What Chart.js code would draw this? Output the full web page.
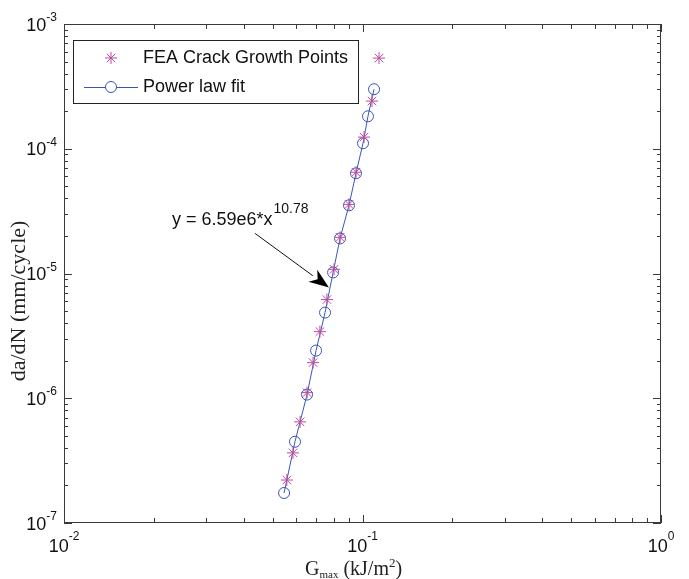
<!DOCTYPE html>
<html>
<head>
<meta charset="utf-8">
<script src="https://cdn.jsdelivr.net/npm/chart.js@4/dist/chart.umd.min.js"></script>
<style>
body{margin:0;background:#fff}
#wrap{width:689px;height:579px;position:relative}
</style>
</head>
<body>
<div id="wrap"><canvas id="growthChart"></canvas></div>
<script>
// FEA crack growth points
const feaG=[0.0558,0.0585,0.0618,0.0652,0.0683,0.0720,0.0760,0.0803,0.0841,0.0901,0.0951,0.1012,0.1076,0.1136]
const feaRate=[2.21e-7,3.65e-7,6.47e-7,1.11e-6,1.93e-6,3.42e-6,6.18e-6,1.08e-5,1.95e-5,3.58e-5,6.48e-5,1.24e-4,2.41e-4,5.33e-4]

// power law fit points
const fitG=[0.0546,0.0594,0.0652,0.0699,0.0749,0.0797,0.0841,0.0901,0.0951,0.1004,0.1043,0.1093]
const fitRate=[1.74e-7,4.48e-7,1.07e-6,2.41e-6,4.86e-6,1.02e-5,1.91e-5,3.52e-5,6.36e-5,1.107e-4,1.82e-4,3.0e-4]

const xDecades=[-2,-1,0]
const yDecades=[-7,-6,-5,-4,-3]
const seriesNames=["FEA Crack Growth Points","Power law fit"]
const fitText="y = 6.59e6*x"
const fitExp="10.78"
// annotation anchors in data units
const noteAt={x:0.0230,y:2.43e-5}
const arrowFrom={x:0.0436,y:2.10e-5}
const arrowTo={x:0.0772,y:7.72e-6}

const STAR="#bc4aa0"
const BLUE="#3a55b8"
const AXIS="#3a3a3a"
const SANS="'Liberation Sans', Arial, sans-serif"
const SERIF="'Liberation Serif', 'Times New Roman', serif"

function toPts(xs,ys){
return xs.map((v,i)=>({x:v,y:ys[i]}))
}

function drawPow(ctx,x,yBase,exp,align,baseSize,expSize,raise){
ctx.font=baseSize+"px "+SANS
let wb=ctx.measureText("10").width
ctx.font=expSize+"px "+SANS
let we=ctx.measureText(exp).width
let start=align==="center"?x-(wb+we)/2:x-(wb+we)
ctx.textAlign="left"
ctx.textBaseline="alphabetic"
ctx.font=baseSize+"px "+SANS
ctx.fillText("10",start,yBase)
ctx.font=expSize+"px "+SANS
ctx.fillText(exp,start+wb,yBase-raise)
}

const framePlugin={
id:"frame",
afterDraw(chart){
const ctx=chart.ctx
const a=chart.chartArea
const xs=chart.scales.x
const ys=chart.scales.y
ctx.save()

// frame
ctx.strokeStyle=AXIS
ctx.lineWidth=1
ctx.strokeRect(a.left+0.5,a.top+0.5,a.right-a.left-1,a.bottom-a.top-1)

// ticks, inward on all sides
ctx.beginPath()
xDecades.forEach(d=>{
for(let m=1;m<10;m++){
let v=m*Math.pow(10,d)
if(v>1.0001)break
let px=Math.round(xs.getPixelForValue(v))+0.5
let len=m===1?8:5
ctx.moveTo(px,a.bottom);ctx.lineTo(px,a.bottom-len)
ctx.moveTo(px,a.top);ctx.lineTo(px,a.top+len)
}
})
yDecades.forEach(d=>{
for(let m=1;m<10;m++){
let v=m*Math.pow(10,d)
if(v>1.0001e-3)break
let py=Math.round(ys.getPixelForValue(v))+0.5
let len=m===1?8:4
ctx.moveTo(a.left,py);ctx.lineTo(a.left+len,py)
ctx.moveTo(a.right,py);ctx.lineTo(a.right-len,py)
}
})
ctx.stroke()

// tick labels
ctx.fillStyle="#111"
xDecades.forEach(d=>{
let px=xs.getPixelForValue(Math.pow(10,d))
drawPow(ctx,px,a.bottom+29,String(d),"center",18,12,12)
})
yDecades.forEach(d=>{
let py=ys.getPixelForValue(Math.pow(10,d))
drawPow(ctx,a.left-7,py+6.5,String(d),"right",18,12,9.5)
})

// axis titles
ctx.fillStyle="#222"
ctx.save()
ctx.translate(19,301)
ctx.rotate(-Math.PI/2)
ctx.font="22px "+SERIF
ctx.textAlign="center"
ctx.textBaseline="middle"
ctx.fillText("da/dN (mm/cycle)",0,0)
ctx.restore()

let tx=305,tb=575
ctx.textAlign="left"
ctx.textBaseline="alphabetic"
ctx.font="20px "+SERIF
ctx.fillText("G",tx,tb);tx+=ctx.measureText("G").width
ctx.font="11px "+SERIF
ctx.fillText("max",tx,tb+3);tx+=ctx.measureText("max").width
ctx.font="20px "+SERIF
ctx.fillText(" (kJ/m",tx,tb);tx+=ctx.measureText(" (kJ/m").width
ctx.font="13px "+SERIF
ctx.fillText("2",tx,tb-8);tx+=ctx.measureText("2").width
ctx.font="20px "+SERIF
ctx.fillText(")",tx,tb)

// annotation text and arrow
let nx=xs.getPixelForValue(noteAt.x)
let ny=ys.getPixelForValue(noteAt.y)
ctx.fillStyle="#111"
ctx.font="18px "+SANS
ctx.fillText(fitText,nx,ny)
let w=ctx.measureText(fitText).width
ctx.font="14px "+SANS
ctx.fillText(fitExp,nx+w+1,ny-12)

let x0=xs.getPixelForValue(arrowFrom.x),y0=ys.getPixelForValue(arrowFrom.y)
let x1=xs.getPixelForValue(arrowTo.x),y1=ys.getPixelForValue(arrowTo.y)
let ang=Math.atan2(y1-y0,x1-x0)
let hl=20,hw=7.5
let bx=x1-hl*Math.cos(ang),by=y1-hl*Math.sin(ang)
ctx.strokeStyle="#111"
ctx.lineWidth=1
ctx.beginPath()
ctx.moveTo(x0,y0);ctx.lineTo(bx,by)
ctx.stroke()
ctx.beginPath()
ctx.moveTo(x1,y1)
ctx.lineTo(bx-hw*Math.sin(ang),by+hw*Math.cos(ang))
ctx.lineTo(x1-hl*0.7*Math.cos(ang),y1-hl*0.7*Math.sin(ang))
ctx.lineTo(bx+hw*Math.sin(ang),by-hw*Math.cos(ang))
ctx.closePath()
ctx.fillStyle="#000"
ctx.fill()

// legend box
let lx=73,ly=40,lw=285,lh=63
ctx.fillStyle="#fff"
ctx.fillRect(lx,ly,lw,lh)
ctx.strokeStyle="#222"
ctx.strokeRect(lx+0.5,ly+0.5,lw,lh)

let r1=58,r2=87
// star sample
ctx.strokeStyle=STAR
ctx.lineWidth=1
let sx=111,s=6
ctx.beginPath()
ctx.moveTo(sx-s,r1);ctx.lineTo(sx+s,r1)
ctx.moveTo(sx,r1-s);ctx.lineTo(sx,r1+s)
let k=s*0.7
ctx.moveTo(sx-k,r1-k);ctx.lineTo(sx+k,r1+k)
ctx.moveTo(sx-k,r1+k);ctx.lineTo(sx+k,r1-k)
ctx.stroke()
// line + circle sample
ctx.strokeStyle=BLUE
ctx.beginPath()
ctx.moveTo(84,r2+0.5);ctx.lineTo(105.5,r2+0.5)
ctx.moveTo(116.5,r2+0.5);ctx.lineTo(138,r2+0.5)
ctx.stroke()
ctx.beginPath()
ctx.arc(sx,r2,5.5,0,Math.PI*2)
ctx.stroke()

ctx.fillStyle="#111"
ctx.font="18px "+SANS
ctx.textBaseline="middle"
ctx.fillText(seriesNames[0],143,r1)
ctx.fillText(seriesNames[1],143,r2)

ctx.restore()
}
}

const growthChart=new Chart(
document.getElementById("growthChart"),
{
type:"scatter",
data:{
datasets:[
{
label:seriesNames[0],
data:toPts(feaG,feaRate),
pointStyle:"star",
pointRadius:6,
borderColor:STAR,
backgroundColor:STAR,
borderWidth:1,
showLine:false
},
{
label:seriesNames[1],
data:toPts(fitG,fitRate),
pointStyle:"circle",
pointRadius:5.5,
borderColor:BLUE,
backgroundColor:"rgba(0,0,0,0)",
pointBorderWidth:1,
borderWidth:1,
showLine:true,
tension:0
}
]
},
options:{
responsive:true,
maintainAspectRatio:false,
animation:false,
clip:false,
layout:{padding:{left:64,top:24,right:28,bottom:56}},
plugins:{legend:{display:false},tooltip:{enabled:false}},
scales:{
x:{
type:"logarithmic",
min:0.01,max:1,
ticks:{display:false},
grid:{display:false,drawTicks:false},
border:{display:false},
title:{display:false}
},
y:{
type:"logarithmic",
min:1e-7,max:1e-3,
ticks:{display:false},
grid:{display:false,drawTicks:false},
border:{display:false},
title:{display:false}
}
}
},
plugins:[framePlugin]
})
</script>
</body>
</html>
